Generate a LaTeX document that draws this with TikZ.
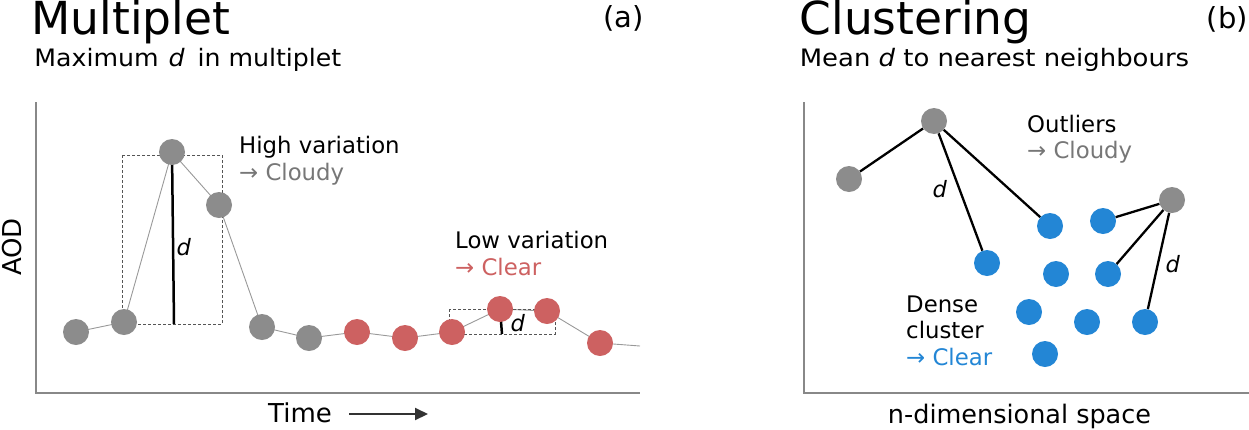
\documentclass[tikz,border=0pt]{standalone}
\usepackage{fontspec}
\setmainfont{DejaVu Sans}
\newfontfamily\subAfont[FakeStretch=1.05]{DejaVu Sans}
\newfontfamily\subBfont[FakeStretch=1.08]{DejaVu Sans}
\usetikzlibrary{arrows.meta}
\definecolor{dotgray}{HTML}{8C8C8C}
\definecolor{dotred}{HTML}{CD6161}
\definecolor{dotblue}{HTML}{2386D5}
\definecolor{txtgray}{HTML}{777777}
\definecolor{axisgray}{HTML}{888888}
\definecolor{linegray}{HTML}{999999}
\definecolor{boxgray}{HTML}{555555}
\definecolor{arrowdark}{HTML}{333333}
\begin{document}
\begin{tikzpicture}[x=1pt,y=-1pt,
  dot/.style={circle,inner sep=0pt,minimum size=26pt,draw=none},
  gdot/.style={dot,fill=dotgray},
  rdot/.style={dot,fill=dotred},
  bdot/.style={dot,fill=dotblue},
  title/.style={inner sep=0pt,anchor=base west,font=\fontsize{45.5}{46}\selectfont},
  subtitle/.style={inner sep=0pt,anchor=base west},
  tag/.style={inner sep=0pt,anchor=base west,font=\fontsize{29}{30}\selectfont},
  lbl/.style={inner sep=0pt,anchor=base west,font=\fontsize{22.8}{26}\selectfont},
  axlbl/.style={inner sep=0pt,anchor=base,font=\fontsize{26}{28}\selectfont},
  dlbl/.style={inner sep=0pt,anchor=base west,font=\fontsize{22.5}{26}\selectfont\itshape},
  axisline/.style={draw=axisgray,line width=1.5pt},
  dataline/.style={draw=linegray,line width=0.9pt},
  boxline/.style={draw=boxgray,line width=1pt,dash pattern=on 3pt off 2pt},
  dline/.style={draw=black,line width=2.5pt},
  edge/.style={draw=black,line width=2.3pt}]
\useasboundingbox (0,0) rectangle (1249,429);

% ---------------- Panel (a) ----------------
\node[title] (ta) at (31.5,34.5) {Multiplet};
\node[subtitle,font=\subAfont\fontsize{24}{28}\selectfont] (sa) at (34.2,66.7) {Maximum\hspace{2pt} {\itshape d}\hspace{5pt} in multiplet};
\node[tag] (taga) at (603,27) {(a)};

\coordinate (aO) at (36,393);
\coordinate (aTop) at (36,102);
\coordinate (aRight) at (640,393);
\draw[axisline] (aTop) -- (aO) -- (aRight);

\node[axlbl,rotate=90] (aod) at (21,247) {AOD};
\node[axlbl,anchor=base west] (time) at (268,422) {Time};
\coordinate (tS) at (349,414);
\coordinate (tE) at (428,414);
\draw[arrowdark,line width=2pt,-{Triangle[length=13pt,width=12pt]}] (tS) -- (tE);

% points
\coordinate (c1) at (76,332);
\coordinate (c2) at (124,322);
\coordinate (c3) at (172,152);
\coordinate (c4) at (219,205);
\coordinate (c5) at (262,327);
\coordinate (c6) at (309,338);
\coordinate (c7) at (357,332);
\coordinate (c8) at (405,338);
\coordinate (c9) at (452,332);
\coordinate (c10) at (500,309);
\coordinate (c11) at (547,311);
\coordinate (c12) at (600,343);
\coordinate (cEnd) at (640,346);

\draw[dataline] (c1) -- (c2) -- (c3) -- (c4) -- (c5) -- (c6) -- (c7) -- (c8) -- (c9) -- (c10) -- (c11) -- (c12) -- (cEnd);

% multiplet boxes
\coordinate (b1a) at (122,155);
\coordinate (b1b) at (222,324);
\draw[boxline] (b1a) rectangle (b1b);
\coordinate (d1e) at (174,324);
\draw[dline] (c3) -- (d1e);

\coordinate (b2a) at (449,309);
\coordinate (b2b) at (555,334);
\draw[boxline] (b2a) rectangle (b2b);
\coordinate (d2e) at (502,334);
\draw[dline] (c10) -- (d2e);

\node[gdot] (p1) at (c1) {};
\node[gdot] (p2) at (c2) {};
\node[gdot] (p3) at (c3) {};
\node[gdot] (p4) at (c4) {};
\node[gdot] (p5) at (c5) {};
\node[gdot] (p6) at (c6) {};
\node[rdot] (p7) at (c7) {};
\node[rdot] (p8) at (c8) {};
\node[rdot] (p9) at (c9) {};
\node[rdot] (p10) at (c10) {};
\node[rdot] (p11) at (c11) {};
\node[rdot] (p12) at (c12) {};

\node[dlbl] (da1) at (176.5,255) {d};
\node[dlbl] (da2) at (510.5,331) {d};

\node[lbl] (hv) at (239,153.3) {High variation};
\node[lbl,text=txtgray] (hvc) at (239,180) {→ Cloudy};
\node[lbl] (lv) at (455,248) {Low variation};
\node[lbl,text=dotred] (lvc) at (455,275) {→ Clear};

% ---------------- Panel (b) ----------------
\node[title] (tb) at (799.5,34.5) {Clustering};
\node[subtitle,font=\subBfont\fontsize{24}{28}\selectfont] (sb) at (799.6,66.7) {Mean {\itshape d} to nearest neighbours};
\node[tag] (tagb) at (1206.5,28) {(b)};

\coordinate (bO) at (804,393);
\coordinate (bTop) at (804,102);
\coordinate (bRight) at (1249,393);
\draw[axisline] (bTop) -- (bO) -- (bRight);
\node[axlbl,font=\fontsize{25.5}{28}\selectfont] (nd) at (1019.5,423) {n-dimensional space};

\node[gdot] (g1) at (849,179) {};
\node[gdot] (g2) at (934,121) {};
\node[gdot] (g3) at (1172,200) {};
\node[bdot] (q1) at (1050,226) {};
\node[bdot] (q2) at (1103,221) {};
\node[bdot] (q3) at (987,263) {};
\node[bdot] (q4) at (1056,274) {};
\node[bdot] (q5) at (1108,274) {};
\node[bdot] (q6) at (1029,312) {};
\node[bdot] (q7) at (1087,322) {};
\node[bdot] (q8) at (1145,322) {};
\node[bdot] (q9) at (1045,354) {};

\draw[edge] (g1) -- (g2);
\draw[edge] (g2) -- (q3);
\draw[edge] (g2) -- (q1);
\draw[edge] (g3) -- (q2);
\draw[edge] (g3) -- (q5);
\draw[edge] (g3) -- (q8);

\node[dlbl] (db1) at (932.5,197) {d};
\node[dlbl] (db2) at (1165.5,272) {d};

\node[lbl] (ol) at (1027,132) {Outliers};
\node[lbl,text=txtgray] (olc) at (1027,158) {→ Cloudy};
\node[lbl] (dc1) at (906,312) {Dense};
\node[lbl] (dc2) at (906,338) {cluster};
\node[lbl,text=dotblue] (dc3) at (906,365) {→ Clear};
\end{tikzpicture}
\end{document}
